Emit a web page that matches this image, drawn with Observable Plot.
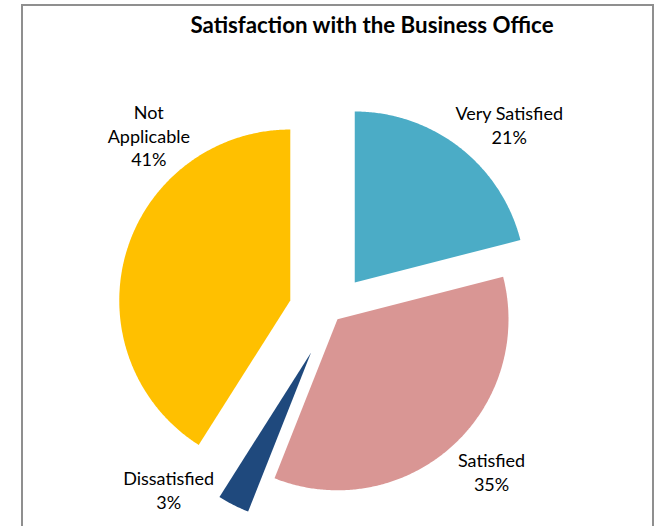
<!DOCTYPE html>
<html>
<head>
<meta charset="utf-8">
<script src="https://cdn.jsdelivr.net/npm/d3@7"></script>
<script src="https://cdn.jsdelivr.net/npm/@observablehq/plot@0.6"></script>
<style>
  html, body { margin: 0; padding: 0; background: #fff; }
  #wrap { position: relative; width: 669px; height: 526px; overflow: hidden; background: #fff; }
  #frame { position: absolute; left: 21px; top: 4px; width: 633px; height: 600px;
           border: 2px solid #8f8f8f; pointer-events: none; box-sizing: border-box; }
  #title { position: absolute; left: 0; top: 9px; width: 744px; text-align: center;
           font-family: Lato, sans-serif; font-weight: bold; font-size: 22.3px; color: #000; height: 31px; line-height: 31px; }
  #chart { position: absolute; left: 0; top: 40px; }
</style>
</head>
<body>
<div id="wrap">
  <div id="title">Satisfaction with the Business Office</div>
  <div id="chart"></div>
  <div id="frame"></div>
</div>
<script>
// ---- data ----
const categories = ["Very Satisfied", "Satisfied", "Dissatisfied", "Not Applicable"];
const percents = [21, 35, 3, 41];
const labelNames = ["Very Satisfied", "Satisfied", "Dissatisfied", "Not\nApplicable"];
const colors = ["#4BACC6", "#D99694", "#1F497D", "#FFC000"];

// ---- layout (in pie radii / degrees) ----
const explode = [0.222, 0.053, 0.263, 0.251];
const labelAngle = [43.3, 134.8, 222.6, 314.2];
const labelRadius = [1.515, 1.319, 1.407, 1.490];

const W = 669, H = 486, R = 171, CX = 331, CY = 272;

const rows = categories.map((c, i) => ({category: c, pct: percents[i], i}));
const arcs = d3.pie().sort(null).value(d => d.pct)(rows);

const pts = [];
arcs.forEach(a => {
  const i = a.data.i;
  const mid = (a.startAngle + a.endAngle) / 2;
  const ox = explode[i] * Math.sin(mid), oy = explode[i] * Math.cos(mid);
  pts.push({category: a.data.category, x: ox, y: oy});
  const n = Math.max(4, Math.ceil((a.endAngle - a.startAngle) / (Math.PI / 360)));
  for (let k = 0; k <= n; k++) {
    const t = a.startAngle + (a.endAngle - a.startAngle) * k / n;
    pts.push({category: a.data.category, x: ox + Math.sin(t), y: oy + Math.cos(t)});
  }
});

const labels = arcs.map(a => {
  const i = a.data.i;
  const ang = labelAngle[i] * Math.PI / 180;
  return {
    x: labelRadius[i] * Math.sin(ang),
    y: labelRadius[i] * Math.cos(ang),
    text: labelNames[i] + "\n" + a.data.pct + "%"
  };
});

const plot = Plot.plot({
  width: W,
  height: H,
  margin: 0,
  style: {background: "transparent", fontFamily: "Lato, sans-serif"},
  x: {domain: [-CX / R, (W - CX) / R], axis: null},
  y: {domain: [-(H - CY) / R, CY / R], axis: null},
  color: {domain: categories, range: colors},
  marks: [
    Plot.line(pts, {x: "x", y: "y", z: "category", fill: "category", stroke: "none", curve: "linear"}),
    Plot.text(labels, {x: "x", y: "y", text: "text", fontSize: 18, lineHeight: 1.33,
      lineAnchor: "middle", textAnchor: "middle", fill: "#000", fontFamily: "Lato, sans-serif"})
  ]
});
document.getElementById("chart").appendChild(plot);
</script>
</body>
</html>
